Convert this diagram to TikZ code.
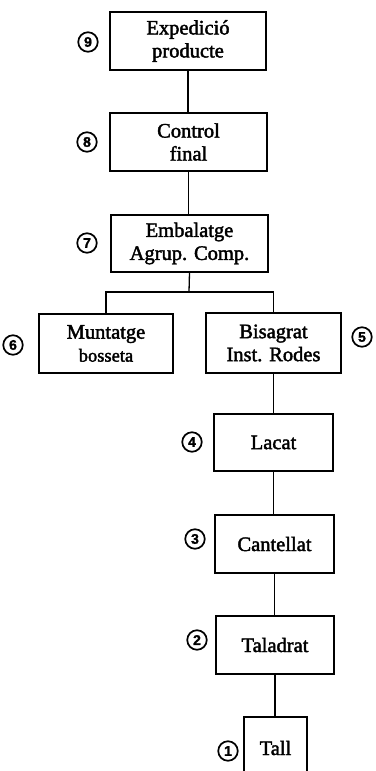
\documentclass[tikz,border=0pt]{standalone}
\usepackage{fontspec}
\setmainfont{Liberation Serif}[FakeBold=2]
\newfontfamily\numfont{Liberation Sans Bold}[FakeBold=1.5]
\begin{document}
\begin{tikzpicture}[x=1pt,y=-1pt,
  stepbox/.style={draw,line width=1.3pt,inner sep=0pt,align=center,
    font=\fontsize{20.5}{23}\selectfont},
  num/.style={draw,circle,line width=1.7pt,minimum size=19.5pt,inner sep=0pt,
    font=\numfont\fontsize{14}{14}\selectfont},
  link/.style={line width=1.3pt}]
\clip (0,0) rectangle (375,771);
\node[stepbox,minimum width=156pt,minimum height=58pt] (b9) at (188,41) {Expedició\\producte};
\node[stepbox,minimum width=157pt,minimum height=58pt] (b8) at (188.5,142) {Control\\final};
\node[stepbox,minimum width=157pt,minimum height=57pt] (b7) at (189.5,243.5) {Embalatge\\Agrup. Comp.};
\node[stepbox,minimum width=134pt,minimum height=59pt] (b6) at (106,343.5) {Muntatge\\{\fontsize{18.5}{23}\selectfont bosseta}};
\node[stepbox,minimum width=135pt,minimum height=60pt] (b5) at (273.5,343) {Bisagrat\\Inst. Rodes};
\node[stepbox,minimum width=119pt,minimum height=57pt] (b4) at (273.5,442.5) {Lacat};
\node[stepbox,minimum width=119pt,minimum height=58pt] (b3) at (274.5,544) {Cantellat};
\node[stepbox,minimum width=118pt,minimum height=58pt] (b2) at (275,645) {Taladrat};
\node[stepbox,minimum width=63pt,minimum height=62pt] (b1) at (275.5,748) {Tall};
\node[num] (n9) at (88,42) {9};
\node[num] (n8) at (87,142) {8};
\node[num] (n7) at (87,243) {7};
\node[num] (n6) at (13,345) {6};
\node[num] (n5) at (362,337) {5};
\node[num] (n4) at (192,442) {4};
\node[num] (n3) at (195,539) {3};
\node[num] (n2) at (197,640) {2};
\node[num] (n1) at (228,751) {1};
\coordinate (j) at (189,292);
\draw[link] (b9.south) -- (b9.south |- b8.north);
\draw[link] (b8.south) -- (b8.south |- b7.north);
\draw[link] (b7.south) -- (j);
\draw[link] (b6.north) -- (b6.north |- j) -- (b5.north |- j) -- (b5.north);
\draw[link] (b5.south) -- (b5.south |- b4.north);
\draw[link] (b4.south) -- (b4.south |- b3.north);
\draw[link] (b3.south) -- (b3.south |- b2.north);
\draw[link] (b2.south) -- (b2.south |- b1.north);
\end{tikzpicture}
\end{document}
